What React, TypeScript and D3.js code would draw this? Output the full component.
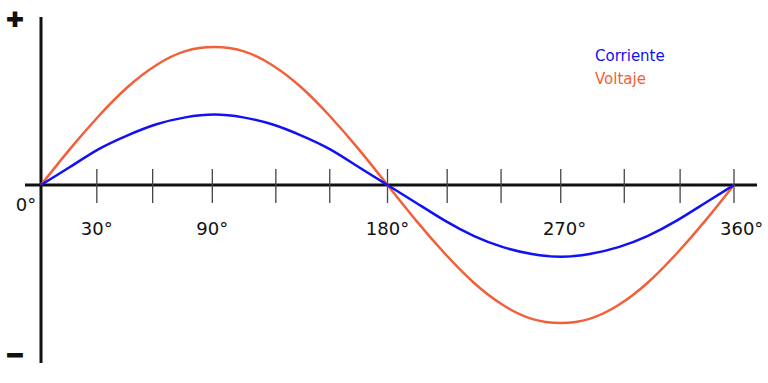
import React, { useEffect, useRef } from 'react';
import * as d3 from 'd3';

const angles = [0, 15, 30, 45, 60, 75, 90, 105, 120, 135, 150, 165, 180, 195, 210, 225, 240, 255, 270, 285, 300, 315, 330, 345, 360];
// voltage, normalised to its peak
const voltaje = [0, 0.26, 0.5, 0.71, 0.87, 0.97, 1.0, 0.97, 0.87, 0.71, 0.5, 0.26, 0, -0.26, -0.5, -0.71, -0.87, -0.97, -1.0, -0.97, -0.87, -0.71, -0.5, -0.26, 0];
// current, same units (about half the voltage)
const corriente = [0, 0.13, 0.26, 0.36, 0.44, 0.49, 0.51, 0.49, 0.44, 0.36, 0.26, 0.13, 0, -0.13, -0.26, -0.37, -0.45, -0.5, -0.52, -0.5, -0.45, -0.37, -0.26, -0.13, 0];

// tick marks along the angle axis (as drawn, a bit uneven)
const tickAngles = [29, 58, 89, 122, 150, 180, 211, 239, 270, 303, 332, 360];
const tickLabels = [
  { angle: 29, text: '30°' },
  { angle: 89, text: '90°' },
  { angle: 180, text: '180°' },
  { angle: 272, text: '270°' },
  { angle: 364, text: '360°' },
];
const legend = [
  { name: 'Corriente', color: '#1111f2' },
  { name: 'Voltaje', color: '#f2603a' },
];

const W = 768, H = 383;
const FONT = '"DejaVu Sans", sans-serif';

function App() {
  const ref = useRef<SVGSVGElement>(null);

  useEffect(() => {
    if (!ref.current) return;
    const svg = d3.select(ref.current);
    svg.selectAll('*').remove();

    const x = d3.scaleLinear().domain([0, 360]).range([41, 734]);
    const y = d3.scaleLinear().domain([-1, 1]).range([185 + 138, 185 - 138]);

    // horizontal axis
    svg.append('line')
      .attr('x1', 25).attr('x2', 757)
      .attr('y1', y(0)).attr('y2', y(0))
      .attr('stroke', '#111').attr('stroke-width', 3);

    // tick marks
    svg.append('g')
      .selectAll('line')
      .data(tickAngles)
      .join('line')
        .attr('x1', d => x(d)).attr('x2', d => x(d))
        .attr('y1', y(0) - 16).attr('y2', y(0) + 18)
        .attr('stroke', '#444').attr('stroke-width', 1.3);

    // vertical axis
    svg.append('line')
      .attr('x1', x(0)).attr('x2', x(0))
      .attr('y1', 17).attr('y2', 363)
      .attr('stroke', '#111').attr('stroke-width', 3);

    const line = (vals: number[]) => d3.line<number>()
      .x((d, i) => x(angles[i]))
      .y(d => y(d))
      .curve(d3.curveNatural)(vals);

    svg.append('path')
      .attr('d', line(voltaje))
      .attr('fill', 'none')
      .attr('stroke', legend[1].color)
      .attr('stroke-width', 2.5);

    svg.append('path')
      .attr('d', line(corriente))
      .attr('fill', 'none')
      .attr('stroke', legend[0].color)
      .attr('stroke-width', 2.5);

    // labels
    svg.append('text')
      .attr('x', 26).attr('y', 211)
      .attr('text-anchor', 'middle')
      .style('font-family', FONT).style('font-size', '18px').style('fill', '#111')
      .text('0°');

    svg.append('g')
      .selectAll('text')
      .data(tickLabels)
      .join('text')
        .attr('x', d => x(d.angle))
        .attr('y', 235)
        .attr('text-anchor', 'middle')
        .style('font-family', FONT).style('font-size', '18px').style('fill', '#111')
        .text(d => d.text);

    // + and - signs
    svg.append('text')
      .attr('x', 15).attr('y', 26)
      .attr('text-anchor', 'middle')
      .style('font-family', FONT).style('font-size', '22px').style('font-weight', 'bold')
      .style('fill', '#111').style('stroke', '#111').style('stroke-width', 2)
      .text('+');
    svg.append('text')
      .attr('x', 15).attr('y', 362)
      .attr('text-anchor', 'middle')
      .style('font-family', FONT).style('font-size', '22px').style('font-weight', 'bold')
      .style('fill', '#111').style('stroke', '#111').style('stroke-width', 2)
      .text('−');

    // legend
    svg.append('g')
      .selectAll('text')
      .data(legend)
      .join('text')
        .attr('x', 595)
        .attr('y', (d, i) => 61 + i * 23)
        .style('font-family', FONT).style('font-size', '15px').style('fill', d => d.color)
        .text(d => d.name);
  }, []);

  return (
    <svg ref={ref} width={W} height={H}
      style={{ position: 'absolute', left: 0, top: 0, background: '#fff' }} />
  );
}

export default App;
